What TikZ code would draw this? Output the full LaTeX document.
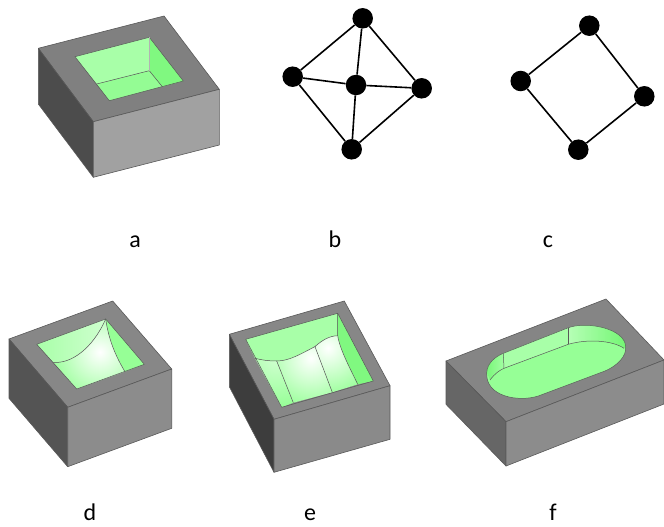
\documentclass[tikz,border=0pt]{standalone}
\usepackage{fontspec}
\setmainfont{Carlito}
\usetikzlibrary{positioning}
\definecolor{wallA}{HTML}{A8FFA8}
\definecolor{wallB}{HTML}{80F880}
\definecolor{floorA}{HTML}{94FC94}
\definecolor{wallC}{HTML}{B6FFB6}
\definecolor{wallD}{HTML}{96FF96}
\definecolor{wallF}{HTML}{72F672}
\definecolor{wallG}{HTML}{D0FFD0}

\begin{document}
\begin{tikzpicture}[x=1pt,y=-1pt,node distance=1cm,on grid]

		\tikzstyle{vertex}=[circle,fill=black,inner sep=0pt,minimum size=20.5pt]
		\tikzstyle{link}=[draw=black,line width=1.6pt]
		\tikzstyle{face}=[draw=black!65,line width=.6pt,line join=round]
		\tikzstyle{crease}=[draw=black!65,line width=.5pt]
		\tikzstyle{caption}=[font=\fontsize{24}{24}\selectfont,anchor=base,inner sep=0pt]

		\useasboundingbox (0,0) rectangle (664,527);

		% a
		\filldraw [face, fill=black!50] (164,16) -- (38.3,48.3) -- (93.3,121.7) -- (219.3,89.3) -- cycle;
		\filldraw [face, fill=black!70] (38.3,48.3) -- (93.3,121.7) -- (93.3,177.3) -- (38.3,104) -- cycle;
		\filldraw [face, fill=black!37] (93.3,121.7) -- (219.3,89.3) -- (219.3,145) -- (93.3,177.3) -- cycle;
		\fill [floorA] (96.7,84) -- (149.3,70.7) -- (162.3,86.7) -- (183.3,81) -- (109.3,100.7) -- cycle;
		\fill [wallA] (75,56.7) -- (149.3,37.3) -- (149.3,70.7) -- (96.7,84) -- cycle;
		\fill [wallB] (149.3,37.3) -- (183.3,81) -- (162.3,86.7) -- (149.3,70.7) -- cycle;
		\draw [crease] (75,56.7) -- (149.3,37.3) -- (183.3,81) -- (109.3,100.7) -- cycle;
		\draw [crease] (96.7,84) -- (149.3,70.7) -- (162.3,86.7);
		\draw [crease, draw=black!30] (149.3,37.3) -- (149.3,70.7);

		% b
		\node [vertex] (BC) at (356,85) {};
		\node [vertex, above right=66.7pt and 6.7pt of BC] (BT) {};
		\node [vertex, above left=8.3pt and 63.3pt of BC] (BL) {};
		\node [vertex, below right=3.3pt and 65.7pt of BC] (BR) {};
		\node [vertex, below left=64.3pt and 4.3pt of BC] (BB) {};
		\draw [link] (BT) -- (BL) -- (BB) -- (BR) -- (BT);
		\draw [link] (BC) -- (BT);
		\draw [link] (BC) -- (BL);
		\draw [link] (BC) -- (BR);
		\draw [link] (BC) -- (BB);

		% c
		\node [vertex] (CT) at (589.3,25.7) {};
		\node [vertex, below left=55.3pt and 68.6pt of CT] (CL) {};
		\node [vertex, below right=70.6pt and 55pt of CT] (CR) {};
		\node [vertex, below left=124pt and 11pt of CT] (CB) {};
		\draw [link] (CT) -- (CL) -- (CB) -- (CR) -- (CT);

		% d
		\filldraw [face, fill=black!47] (112.7,301) -- (9,339) -- (67.7,407.3) -- (171.7,369) -- cycle;
		\filldraw [face, fill=black!67] (9,339) -- (67.7,407.3) -- (67.7,466.7) -- (9,398.3) -- cycle;
		\filldraw [face, fill=black!45] (67.7,407.3) -- (171.7,369) -- (171.7,428.3) -- (67.7,466.7) -- cycle;
		\begin{scope}
			\clip (105.7,319) .. controls (92,350) and (70,364) .. (53.3,362.3) -- (36.7,344.3) -- cycle;
			\shade [left color=wallA, right color=wallG] (36,315) rectangle (108,365);
		\end{scope}
		\fill [wallD] (105.7,319) -- (144.3,364.3) -- (125,371.7) .. controls (113,352) and (108,335) .. (105.7,319);
		\begin{scope}
			\clip (105.7,319) .. controls (92,350) and (70,364) .. (53.3,362.3) -- (76.7,389) -- (125,371.7) .. controls (113,352) and (108,335) .. (105.7,319);
			\shade [inner color=white, outer color=wallD, shading=radial] (100,352) circle (52);
		\end{scope}
		\draw [crease] (36.7,344.3) -- (105.7,319) -- (144.3,364.3) -- (76.7,389) -- cycle;
		\draw [crease] (105.7,319) .. controls (92,350) and (70,364) .. (53.3,362.3);
		\draw [crease] (105.7,319) .. controls (108,335) and (113,352) .. (125,371.7);

		% e
		\filldraw [face, fill=black!47] (344.3,301) -- (229.3,334.3) -- (274,419.3) -- (390,385.7) -- cycle;
		\filldraw [face, fill=black!76] (229.3,334.3) -- (274,419.3) -- (274,472.3) -- (229.3,386.7) -- cycle;
		\filldraw [face, fill=black!46] (274,419.3) -- (390,385.7) -- (390,439.3) -- (274,472.3) -- cycle;
		\fill [wallA] (245.7,339.3) -- (337.7,313.3) -- (337.7,335.7) .. controls (320,336) and (305,361) .. (276.7,361) .. controls (268,361) and (262,360) .. (255,358.3) -- cycle;
		\fill [wallB] (337.7,313.3) -- (373.3,381) -- (357.7,384.3) .. controls (350,368) and (340,350) .. (337.7,335.7) -- cycle;
		\begin{scope}
			\clip (255,358.3) .. controls (262,360) and (268,361) .. (276.7,361) -- (293.3,402.7) -- (281.7,407.3) -- cycle;
			\shade [inner color=wallG, outer color=wallD, shading=radial] (276,358) circle (50);
		\end{scope}
		\begin{scope}
			\clip (276.7,361) .. controls (290,361) and (302,353) .. (315,346.7) -- (332.3,392.3) -- (293.3,402.7) -- cycle;
			\shade [inner color=white, outer color=wallD, shading=radial] (311,358) circle (52);
		\end{scope}
		\begin{scope}
			\clip (315,346.7) .. controls (322,340) and (330,335.8) .. (337.7,335.7) .. controls (340,350) and (350,368) .. (357.7,384.3) -- (332.3,392.3) -- cycle;
			\shade [inner color=white, outer color=wallD, shading=radial] (328,348) circle (50);
		\end{scope}
		\draw [crease] (245.7,339.3) -- (337.7,313.3) -- (373.3,381) -- (281.7,407.3) -- cycle;
		\draw [crease] (255,358.3) .. controls (262,360) and (268,361) .. (276.7,361) .. controls (290,361) and (302,353) .. (315,346.7) .. controls (322,340) and (330,335.8) .. (337.7,335.7);
		\draw [crease] (337.7,313.3) -- (337.7,335.7) .. controls (340,350) and (350,368) .. (357.7,384.3);
		\draw [crease] (276.7,361) -- (293.3,402.7);
		\draw [crease] (315,346.7) -- (332.3,392.3);

		% f
		\filldraw [face, fill=black!48] (606,299) -- (446,361) -- (506,421.7) -- (664,360) -- cycle;
		\filldraw [face, fill=black!60] (446,361) -- (506,421.7) -- (506,466) -- (446,404.3) -- cycle;
		\filldraw [face, fill=black!45] (506,421.7) -- (664,360) -- (664,404) -- (506,466) -- cycle;
		\fill [wallD] (503.3,353.3) -- (568.3,327.7) .. controls (586.7,321) and (625,328.3) .. (625.7,346.7) .. controls (626.7,356.7) and (616.7,366) .. (605,371) -- (538.3,396) .. controls (518.3,402.3) and (485,396.7) .. (486.7,372.3) .. controls (487.3,363.3) and (495,356.7) .. (503.3,353.3);
		\fill [wallA] (503.3,353.3) -- (568.3,327.7) -- (568.3,344.3) -- (504,368.3) -- cycle;
		\begin{scope}
			\clip (490,380) .. controls (495,373.3) and (500,370) .. (504,368.3) -- (503.3,353.3) .. controls (495,356.7) and (487.3,363.3) .. (486.7,372.3) -- cycle;
			\shade [left color=wallF, right color=wallA] (484,350) rectangle (506,382);
		\end{scope}
		\begin{scope}
			\clip (568.3,327.7) .. controls (586.7,321) and (625,328.3) .. (625.7,346.7) -- (624,348.3) .. controls (611.7,340) and (586.7,339) .. (568.3,344.3) -- cycle;
			\shade [left color=wallC, middle color=wallC, right color=wallF] (568,320) rectangle (627,350);
		\end{scope}
		\draw [crease] (503.3,353.3) -- (568.3,327.7) .. controls (586.7,321) and (625,328.3) .. (625.7,346.7) .. controls (626.7,356.7) and (616.7,366) .. (605,371) -- (538.3,396) .. controls (518.3,402.3) and (485,396.7) .. (486.7,372.3) .. controls (487.3,363.3) and (495,356.7) .. (503.3,353.3);
		\draw [crease] (490,380) .. controls (495,373.3) and (500,370) .. (504,368.3) -- (568.3,344.3) .. controls (586.7,339) and (611.7,340) .. (624,348.3);
		\draw [crease] (503.3,353.3) -- (504,368.3);
		\draw [crease] (568.3,327.7) -- (568.3,344.3);

		% labels
		\node [caption] (la) at (135,247) {a};
		\node [caption] (lb) at (335,247) {b};
		\node [caption] (lc) at (548,247) {c};
		\node [caption] (ld) at (90,520.5) {d};
		\node [caption] (le) at (310,520.5) {e};
		\node [caption] (lf) at (553,520.5) {f};
	\end{tikzpicture}
\end{document}
